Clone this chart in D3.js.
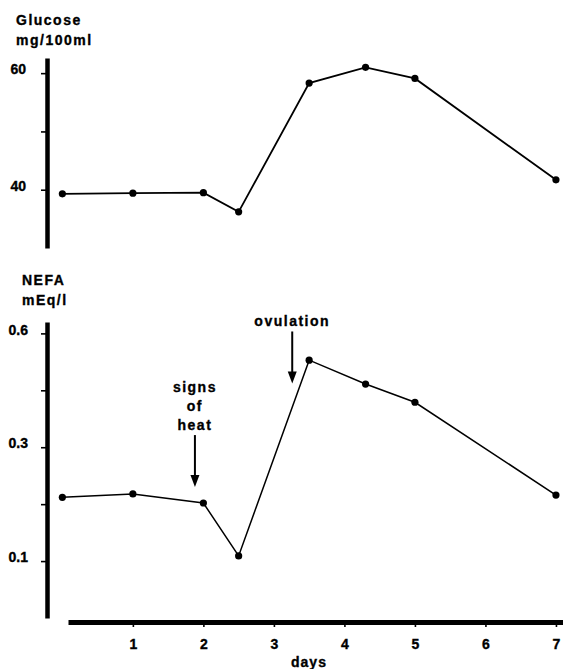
<!DOCTYPE html>
<html>
<head>
<meta charset="utf-8">
<script src="https://cdn.jsdelivr.net/npm/d3@7"></script>
<style>
  body { margin: 0; background: #fff; }
  text { font-family: "Liberation Sans", Arial, sans-serif; font-weight: bold; fill: #000; stroke: #000; stroke-width: 0.35px; }
</style>
</head>
<body>
<div id="chart-container"></div>
<script>
const days = [0, 1, 2, 2.5, 3.5, 4.3, 5, 7];
const glucose = [39.3, 39.4, 39.5, 36.2, 58.3, 61.0, 59.1, 41.7];
const nefa = [0.212, 0.218, 0.202, 0.109, 0.453, 0.411, 0.379, 0.216];

const dayTicks = [1, 2, 3, 4, 5, 6, 7];
const glucoseTicks = [40, 50, 60];
const glucoseTickLabels = ["40", "", "60"];
const nefaTicks = [0.1, 0.2, 0.3, 0.4, 0.5];
const nefaTickLabels = ["0.1", "", "0.3", "", "0.6"];

// annotations: day of arrow, NEFA value at arrow tip
const notes = [
  { lines: ["signs", "of", "heat"], day: 1.88, tip: 0.23 },
  { lines: ["ovulation"], day: 3.26, tip: 0.412 }
];

const width = 563;
const height = 669;

const x = d3.scaleLinear([0.08, 7.1], [68, 563]);
const yG = d3.scaleLinear([30, 62.6], [248, 58]);
const yN = d3.scaleLinear([0, 0.52], [618, 322]);

const svg = d3
  .select("#chart-container")
  .append("svg")
  .attr("width", width)
  .attr("height", height);

function styleAxis(g, w) {
  g.select(".domain").attr("stroke-width", w).attr("stroke-linecap", "butt");
  g.selectAll(".tick line").attr("stroke-width", 1.6);
  g.selectAll(".tick text")
    .attr("font-size", 14)
    .attr("font-family", "Liberation Sans, Arial, sans-serif")
    .attr("font-weight", "bold");
}

// glucose axis
svg
  .append("g")
  .attr("transform", "translate(47,0)")
  .call(
    d3
      .axisLeft(yG)
      .tickValues(glucoseTicks)
      .tickFormat((d, i) => glucoseTickLabels[i])
      .tickSize(6)
      .tickSizeOuter(0)
      .tickPadding(15)
  )
  .call((g) => styleAxis(g, 4.5))
  .call((g) => g.selectAll(".tick text").attr("dy", "0.05em"));

// NEFA axis
svg
  .append("g")
  .attr("transform", "translate(47,0)")
  .call(
    d3
      .axisLeft(yN)
      .tickValues(nefaTicks)
      .tickFormat((d, i) => nefaTickLabels[i])
      .tickSize(6)
      .tickSizeOuter(0)
      .tickPadding(13)
  )
  .call((g) => styleAxis(g, 4.5))
  .call((g) => g.selectAll(".tick text").attr("dy", "0.05em"));

// days axis
svg
  .append("g")
  .attr("transform", "translate(0,622)")
  .call(
    d3
      .axisBottom(x)
      .tickValues(dayTicks)
      .tickFormat(d3.format("d"))
      .tickSize(5)
      .tickSizeOuter(0)
      .tickPadding(12)
  )
  .call((g) => styleAxis(g, 5));

svg
  .append("text")
  .attr("x", 309)
  .attr("y", 667)
  .attr("text-anchor", "middle")
  .attr("font-size", 14)
  .attr("letter-spacing", 1)
  .text("days");

// panel titles
const titles = [
  { t: ["Glucose", "mg/100ml"], x: 16, y: 25 },
  { t: ["NEFA", "mEq/l"], x: 22, y: 285 }
];
titles.forEach((d) => {
  d.t.forEach((s, i) => {
    svg
      .append("text")
      .attr("x", d.x)
      .attr("y", d.y + i * 20)
      .attr("font-size", 14)
      .attr("letter-spacing", 1.5)
      .text(s);
  });
});

const dataG = days.map((d, i) => ({ day: d, v: glucose[i] }));
const dataN = days.map((d, i) => ({ day: d, v: nefa[i] }));

const lineG = d3.line().x((d) => x(d.day)).y((d) => yG(d.v));
const lineN = d3.line().x((d) => x(d.day)).y((d) => yN(d.v));

svg
  .append("path")
  .attr("fill", "none")
  .attr("stroke", "#000")
  .attr("stroke-width", 1.8)
  .attr("d", lineG(dataG));

svg
  .append("path")
  .attr("fill", "none")
  .attr("stroke", "#000")
  .attr("stroke-width", 1.5)
  .attr("d", lineN(dataN));

svg
  .selectAll(".dotG")
  .data(dataG)
  .join("circle")
  .attr("class", "dotG")
  .attr("cx", (d) => x(d.day))
  .attr("cy", (d) => yG(d.v))
  .attr("r", 3.6);

svg
  .selectAll(".dotN")
  .data(dataN)
  .join("circle")
  .attr("class", "dotN")
  .attr("cx", (d) => x(d.day))
  .attr("cy", (d) => yN(d.v))
  .attr("r", 3.6);

// arrows with labels
notes.forEach((n) => {
  const ax = x(n.day);
  const tipY = yN(n.tip);
  const nLines = n.lines.length;
  const topY = tipY - 52;
  n.lines.forEach((s, i) => {
    svg
      .append("text")
      .attr("x", ax)
      .attr("y", topY - 5 - (nLines - 1 - i) * 19)
      .attr("text-anchor", "middle")
      .attr("font-size", 14)
      .attr("letter-spacing", 1.5)
      .text(s);
  });
  svg
    .append("line")
    .attr("x1", ax)
    .attr("x2", ax)
    .attr("y1", topY)
    .attr("y2", tipY - 8)
    .attr("stroke", "#000")
    .attr("stroke-width", 2);
  svg
    .append("path")
    .attr("d", `M${ax - 4.5},${tipY - 12}L${ax + 4.5},${tipY - 12}L${ax},${tipY}Z`)
    .attr("fill", "#000");
});
</script>
</body>
</html>
